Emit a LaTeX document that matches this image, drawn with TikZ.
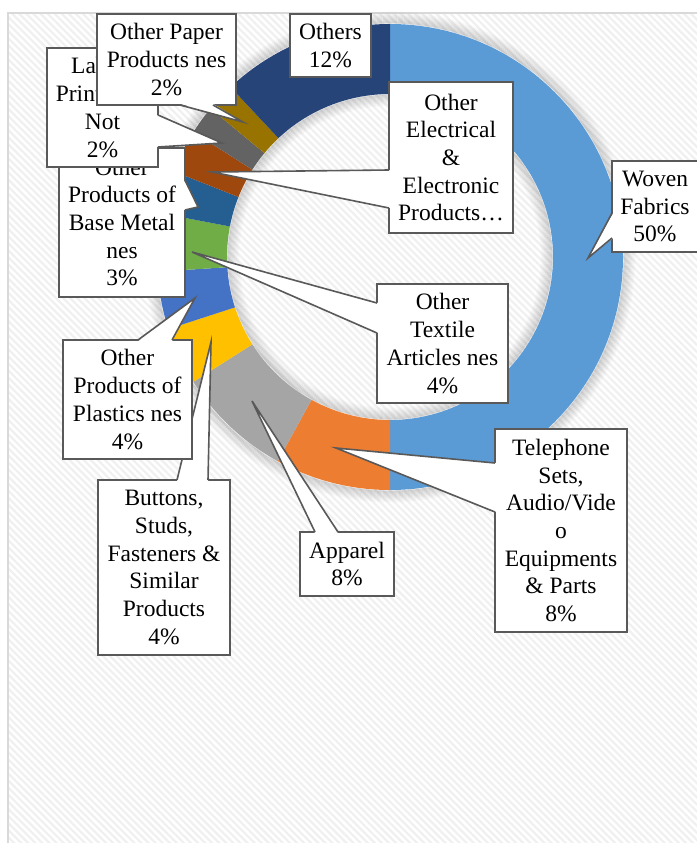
\documentclass[tikz,border=0pt]{standalone}
\usepackage{fontspec}
\setmainfont{Liberation Serif}
\usetikzlibrary{calc,patterns.meta}
\definecolor{cwoven}{HTML}{5B9BD5}
\definecolor{ctel}{HTML}{ED7D31}
\definecolor{capparel}{HTML}{A5A5A5}
\definecolor{cbuttons}{HTML}{FFC000}
\definecolor{cplastics}{HTML}{4472C4}
\definecolor{ctextile}{HTML}{70AD47}
\definecolor{cmetal}{HTML}{255E91}
\definecolor{celec}{HTML}{9E480E}
\definecolor{clabels}{HTML}{636363}
\definecolor{cpaper}{HTML}{997300}
\definecolor{cothers}{HTML}{264478}
\definecolor{cgray}{HTML}{595959}
\definecolor{cframe}{HTML}{D9D9D9}
\tikzset{
  cbox/.style={draw=cgray, fill=white, line width=1.6pt, inner sep=0pt, outer sep=0pt,
    align=center, font=\fontsize{23.5pt}{27.7pt}\selectfont},
  pline/.style={draw=cgray, line width=1.6pt, line join=miter},
}
\newcommand\callptr[4]{%
  \fill[white] ($(#1)+(#4)$) -- (#3) -- ($(#2)+(#4)$) -- cycle;
  \draw[pline] (#1) -- (#3) -- (#2);}
\begin{document}
\begin{tikzpicture}[x=1pt,y=-1pt]
\useasboundingbox (0,0) rectangle (696,843);
\fill[white] (0,0) rectangle (696,843);
\path[pattern={Lines[angle=-45,distance=5pt,line width=2.2pt]}, pattern color=black!6] (8,13) rectangle (710,860);
\draw[cframe, line width=2pt] (8,13) rectangle (720,870);

\coordinate (c) at (390,257);
% soft shadow of the ring
\foreach \k in {1,...,12}{
  \pgfmathsetmacro\op{0.011*(13-\k)}
  \draw[black, opacity=\op, line width=1.2pt] (c) circle[radius=233+\k];
  \draw[black, opacity=\op, line width=1.2pt] (c) circle[radius=163-\k];
}
% ring slices, clockwise from the top
\foreach \a/\b/\col in {-90/90/cwoven, 90/118.8/ctel, 118.8/147.6/capparel,
  147.6/162/cbuttons, 162/176.4/cplastics, 176.4/190.8/ctextile, 190.8/201.6/cmetal,
  201.6/212.4/celec, 212.4/219.6/clabels, 219.6/226.8/cpaper, 226.8/270/cothers}{
  \fill[\col] ($(c)+(\a:233)$) arc[start angle=\a, end angle=\b, radius=233]
    -- ($(c)+(\b:163)$) arc[start angle=\b, end angle=\a, radius=163] -- cycle;
}

% callouts
\node[cbox, minimum width=126, minimum height=149] (metal) at (122,222.5)
  {Other\\Products of\\Base Metal\\nes\\3\%};
\coordinate (metalT) at (198,207);
\callptr{metal.east |- 0,180}{metal.east |- 0,210}{metalT}{-1.2,0}

\node[cbox, minimum width=111, minimum height=119] (labels) at (102.5,107.5)
  {Labels\\Printed or\\Not\\2\%};
\coordinate (labelsT) at (222,143);
\callptr{labels.east |- 0,115}{labels.east |- 0,147}{labelsT}{-1.2,0}

\node[cbox, minimum width=139, minimum height=91] (paper) at (166.5,59.5)
  {Other Paper\\Products nes\\2\%};
\coordinate (paperT) at (243,122);
\callptr{paper.south -| 180,0}{paper.south -| 213,0}{paperT}{0,-1.2}

\node[cbox, minimum width=81, minimum height=63] (others) at (330.5,45.5)
  {Others\\12\%};

\node[cbox, minimum width=124, minimum height=151] (elec) at (451,157.5)
  {Other\\Electrical\\\&\\Electronic\\Products…};
\coordinate (elecT) at (212,172);
\callptr{elec.west |- 0,170}{elec.west |- 0,208}{elecT}{1.2,0}

\node[cbox, minimum width=86, minimum height=91] (woven) at (655,206.5)
  {Woven\\Fabrics\\50\%};
\coordinate (wovenT) at (588,258);
\callptr{woven.west |- 0,213}{woven.west |- 0,238}{wovenT}{1.2,0}

\node[cbox, minimum width=131, minimum height=119] (textile) at (442.5,343.5)
  {Other\\Textile\\Articles nes\\4\%};
\coordinate (textileT) at (192,252);
\callptr{textile.west |- 0,303}{textile.west |- 0,333}{textileT}{1.2,0}

\node[cbox, minimum width=132, minimum height=203] (tel) at (561,530.5)
  {Telephone\\Sets,\\Audio/Vide\\o\\Equipments\\\& Parts\\8\%};
\coordinate (telT) at (336,448);
\callptr{tel.west |- 0,463}{tel.west |- 0,512}{telT}{1.2,0}

\node[cbox, minimum width=94, minimum height=64] (apparel) at (347,564)
  {Apparel\\8\%};
\coordinate (apparelT) at (252,401);
\callptr{apparel.north -| 315,0}{apparel.north -| 338,0}{apparelT}{0,1.2}

\node[cbox, minimum width=132, minimum height=175] (buttons) at (164,567.5)
  {Buttons,\\Studs,\\Fasteners \&\\Similar\\Products\\4\%};
\coordinate (buttonsT) at (211,342);
\callptr{buttons.north -| 177,0}{buttons.north -| 208,0}{buttonsT}{0,1.2}

\node[cbox, minimum width=129, minimum height=119] (plastics) at (127.5,399.5)
  {Other\\Products of\\Plastics nes\\4\%};
\coordinate (plasticsT) at (195,298);
\callptr{plastics.north -| 138,0}{plastics.north -| 172,0}{plasticsT}{0,1.2}
\end{tikzpicture}
\end{document}
